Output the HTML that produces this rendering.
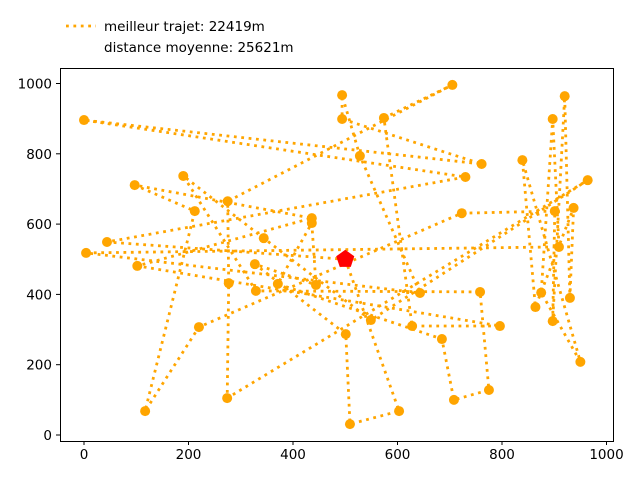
<!DOCTYPE html>
<html><head><meta charset="utf-8"><style>
body{margin:0;background:#fff}
svg text{font-family:"DejaVu Sans","Liberation Sans",sans-serif;font-size:13.5px;fill:#000}
</style></head><body>
<svg id="chart" width="640" height="480" xmlns="http://www.w3.org/2000/svg">
<rect width="640" height="480" fill="#fff"/>
<g id="marks"></g>
<rect x="60.5" y="68.5" width="553" height="373" fill="none" stroke="#000" stroke-width="1"/>
<g id="axes"></g>
<g>
<line x1="66" y1="26" x2="96" y2="26" stroke="orange" stroke-width="2.8" stroke-dasharray="2.8,4.6"/>
<text x="104" y="31">meilleur trajet: 22419m</text>
<text x="104" y="52">distance moyenne: 25621m</text>
</g>
</svg>
<script>
const routeX=[500,44,730,0,761,494,494,528,643,4,909,897,875,950,839,864,937,930,920,897,901,723,220,117,212,97,436,102,796,628,574,705,275,277,274,964,549,344,190,329,758,775,708,685,371,436,444,327,501,509,603];
const routeY=[500,549,734,896,771,899,967,794,404,518,535,899,405,208,782,364,646,390,964,324,637,631,307,68,637,711,617,481,310,310,902,996,665,432,105,725,327,560,737,410,407,128,100,273,430,603,427,486,287,31,68];
const xTicks=[0,200,400,600,800,1000];
const yTicks=[0,200,400,600,800,1000];
const startPoint=[500,500];
const NS='http://www.w3.org/2000/svg';
function sx(v){return 84+v*0.5225;}
function sy(v){return 435-v*0.3515;}
const marks=document.getElementById('marks');
const axes=document.getElementById('axes');
let pts=[];
for(let i=0;i<routeX.length;i++)pts.push(sx(routeX[i]).toFixed(1)+','+sy(routeY[i]).toFixed(1));
pts.push(sx(routeX[0]).toFixed(1)+','+sy(routeY[0]).toFixed(1));
const pl=document.createElementNS(NS,'polyline');
pl.setAttribute('points',pts.join(' '));
pl.setAttribute('fill','none');pl.setAttribute('stroke','orange');pl.setAttribute('stroke-width','2.8');pl.setAttribute('stroke-dasharray','2.8,4.6');


marks.appendChild(pl);
for(let i=0;i<routeX.length;i++){
 const c=document.createElementNS(NS,'circle');
 c.setAttribute('cx',sx(routeX[i]));c.setAttribute('cy',sy(routeY[i]));c.setAttribute('r','5');c.setAttribute('fill','orange');
 
 
 marks.appendChild(c);
}
{
 const cx=sx(startPoint[0]),cy=sy(startPoint[1]);let p=[];
 for(let k=0;k<5;k++){const a=-Math.PI/2+k*2*Math.PI/5;p.push((cx+9.5*Math.cos(a)).toFixed(1)+','+(cy+9.5*Math.sin(a)).toFixed(1));}
 const pg=document.createElementNS(NS,'polygon');
 pg.setAttribute('points',p.join(' '));pg.setAttribute('fill','red');
 
 
 marks.appendChild(pg);
}
xTicks.forEach(v=>{
 const x=sx(v);
 const l=document.createElementNS(NS,'line');
 l.setAttribute('x1',x);l.setAttribute('x2',x);l.setAttribute('y1',441);l.setAttribute('y2',445);l.setAttribute('stroke','#000');
 
 
 axes.appendChild(l);
 const t=document.createElementNS(NS,'text');
 t.setAttribute('x',x);t.setAttribute('y',459);t.setAttribute('text-anchor','middle');t.textContent=v;
 
 
 axes.appendChild(t);
});
yTicks.forEach(v=>{
 const y=sy(v);
 const l=document.createElementNS(NS,'line');
 l.setAttribute('x1',56);l.setAttribute('x2',60);l.setAttribute('y1',y);l.setAttribute('y2',y);l.setAttribute('stroke','#000');
 
 
 axes.appendChild(l);
 const t=document.createElementNS(NS,'text');
 t.setAttribute('x',52);t.setAttribute('y',y+5);t.setAttribute('text-anchor','end');t.textContent=v;
 
 
 axes.appendChild(t);
});
</script>
</body></html>
